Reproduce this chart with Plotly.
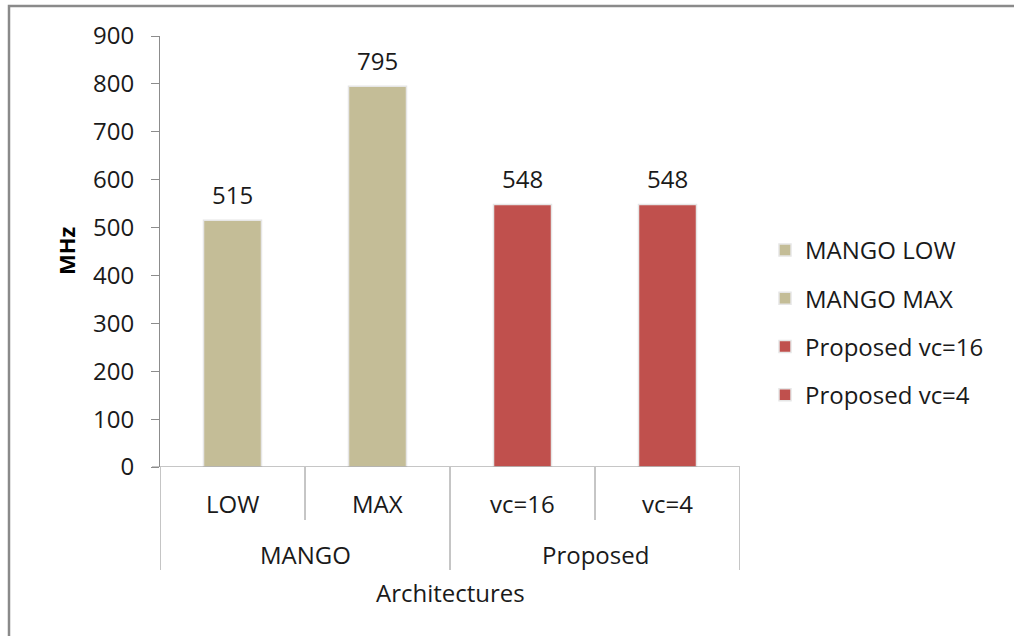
import plotly.graph_objects as go

groups = ["MANGO", "MANGO", "Proposed", "Proposed"]
subcats = ["LOW", "MAX", "vc=16", "vc=4"]
values = [515, 795, 548, 548]
series_names = ["MANGO LOW", "MANGO MAX", "Proposed vc=16", "Proposed vc=4"]
colors = ["#C4BD97", "#C4BD97", "#C0504D", "#C0504D"]
y_ticks = [0, 100, 200, 300, 400, 500, 600, 700, 800, 900]
x_title = "Architectures"
y_title = "MHz"

FONT = "Open Sans"
FS = 24
TXT = "#1a1a1a"
W, H = 1014, 636
ML, MR, MT, MB = 160, 274, 36, 169
PW, PH = W - ML - MR, H - MT - MB

def py(pix):
    return (H - MB - pix) / PH

def px(pix):
    return (pix - ML) / PW

fig = go.Figure()
for i in range(len(subcats)):
    fig.add_trace(go.Bar(
        x=[subcats[i]], y=[values[i]], name=series_names[i],
        marker=dict(color=colors[i], line=dict(color="#e6e6e6", width=1.5)),
        width=0.4, legendgroup=str(i),
    ))

annotations = []
# data labels above bars
for i, v in enumerate(values):
    annotations.append(dict(x=subcats[i], y=v, xref="x", yref="y", text=str(v), yshift=26,
                            xanchor="center", yanchor="middle", showarrow=False,
                            font=dict(family=FONT, size=FS, color=TXT)))
for i, s in enumerate(subcats):
    annotations.append(dict(x=i, y=py(503), xref="x", yref="paper", text=s,
                            xanchor="center", yanchor="middle",
                            showarrow=False, font=dict(family=FONT, size=FS, color=TXT)))
uniq = []
for g in groups:
    if g not in uniq:
        uniq.append(g)
for g in uniq:
    idx = [i for i, gg in enumerate(groups) if gg == g]
    annotations.append(dict(x=(idx[0] + idx[-1]) / 2, y=py(554), xref="x", yref="paper", text=g,
                            xanchor="center", yanchor="middle",
                            showarrow=False, font=dict(family=FONT, size=FS, color=TXT)))
annotations.append(dict(x=(len(subcats) - 1) / 2, y=py(592), xref="x", yref="paper", text=x_title,
                        xanchor="center", yanchor="middle",
                        showarrow=False, font=dict(family=FONT, size=FS, color=TXT)))
annotations.append(dict(x=px(66), y=py(251), xref="paper", yref="paper", text="<b>" + y_title + "</b>",
                        xanchor="center", yanchor="middle",
                        textangle=-90, showarrow=False, font=dict(family=FONT, size=22, color="#000")))

shapes = []
for k in range(len(subcats) + 1):
    xb = k - 0.5
    long = k == 0 or k == len(subcats) or groups[k] != groups[k - 1]
    shapes.append(dict(type="line", xref="x", yref="paper", x0=xb, x1=xb, y0=0,
                       y1=py(570) if long else py(520), line=dict(color="#8c8c8c", width=1)))
# x-axis baseline extended to the left like the tick
shapes.append(dict(type="line", xref="paper", yref="y", x0=px(152), x1=1, y0=0, y1=0,
                   line=dict(color="#8c8c8c", width=1)))
# outer border
shapes.append(dict(type="rect", xref="paper", yref="paper", x0=px(9), x1=px(1040),
                   y0=py(680), y1=py(6), line=dict(color="#8a8a8a", width=2.5), layer="below"))

fig.update_layout(
    width=W, height=H,
    margin=dict(l=ML, r=MR, t=MT, b=MB),
    paper_bgcolor="white", plot_bgcolor="white",
    barmode="overlay",
    font=dict(family=FONT, size=FS, color=TXT),
    xaxis=dict(type="category", categoryorder="array", categoryarray=subcats,
               range=[-0.5, len(subcats) - 0.5], showticklabels=False, ticks="",
               showline=False, showgrid=False, zeroline=False),
    yaxis=dict(range=[0, 900], tickvals=y_ticks, ticks="outside", ticklen=8, tickcolor="#8c8c8c",
               showline=True, linecolor="#8c8c8c", linewidth=1, showgrid=False,
               zeroline=False,
               tickfont=dict(family=FONT, size=FS, color=TXT), ticklabelstandoff=12),
    legend=dict(x=px(765), y=py(228), xanchor="left", yanchor="top",
                font=dict(family=FONT, size=FS, color=TXT),
                tracegroupgap=14, bgcolor="rgba(0,0,0,0)"),
    annotations=annotations, shapes=shapes,
    showlegend=True,
)

fig.write_html("out.html", post_script="document.body.style.margin='0';",
               config={"displayModeBar": False})
